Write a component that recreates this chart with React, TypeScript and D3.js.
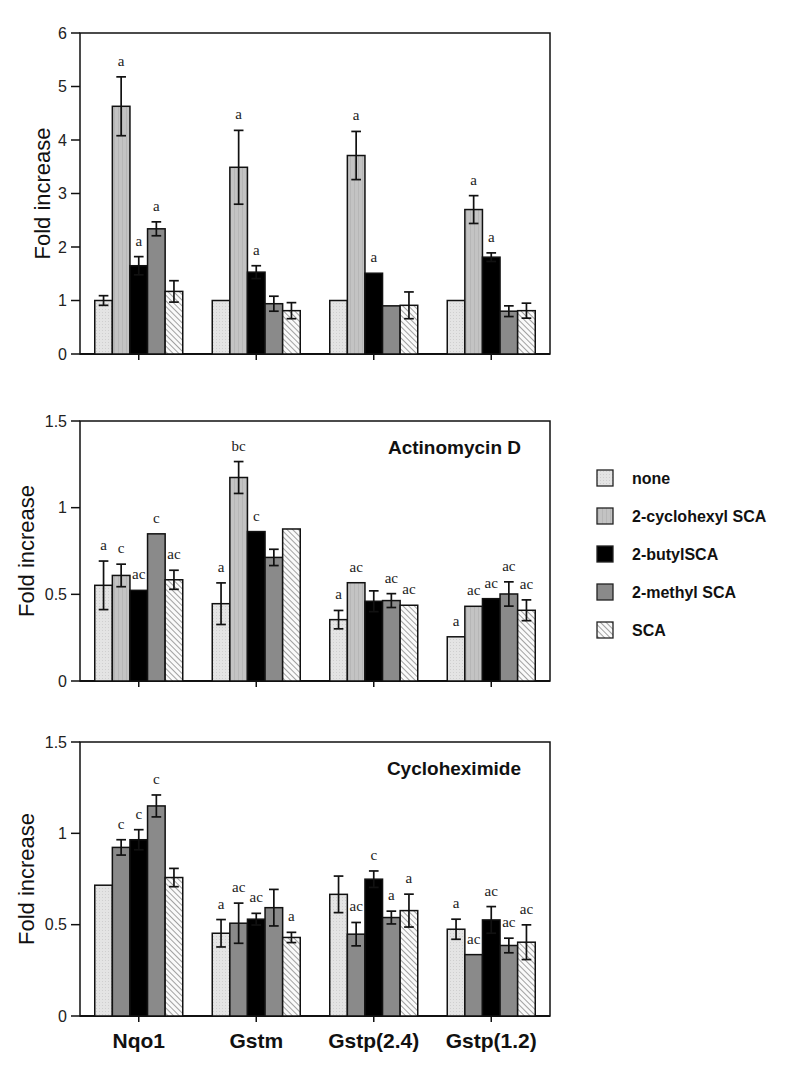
import * as d3 from 'd3';

const genes = ['Nqo1', 'Gstm', 'Gstp(2.4)', 'Gstp(1.2)'];
const treatments = ['none', '2-cyclohexyl SCA', '2-butylSCA', '2-methyl SCA', 'SCA'];

// top panel (no inhibitor)
const topValues = [
  [1.0, 4.63, 1.65, 2.34, 1.17],
  [1.0, 3.49, 1.53, 0.94, 0.81],
  [1.0, 3.71, 1.51, 0.9, 0.91],
  [1.0, 2.7, 1.81, 0.8, 0.81],
];
const topErrors = [
  [0.09, 0.55, 0.17, 0.13, 0.2],
  [0, 0.69, 0.12, 0.14, 0.15],
  [0, 0.45, 0, 0, 0.25],
  [0, 0.26, 0.08, 0.1, 0.14],
];
const topLetters = [
  ['', 'a', 'a', 'a', ''],
  ['', 'a', 'a', '', ''],
  ['', 'a', 'a', '', ''],
  ['', 'a', 'a', '', ''],
];

// Actinomycin D
const actValues = [
  [0.552, 0.609, 0.523, 0.849, 0.584],
  [0.446, 1.174, 0.862, 0.713, 0.877],
  [0.354, 0.567, 0.46, 0.464, 0.437],
  [0.255, 0.431, 0.475, 0.502, 0.408],
];
const actErrors = [
  [0.14, 0.065, 0, 0, 0.055],
  [0.12, 0.092, 0, 0.047, 0],
  [0.053, 0, 0.06, 0.04, 0],
  [0, 0, 0, 0.07, 0.06],
];
const actLetters = [
  ['a', 'c', 'ac', 'c', 'ac'],
  ['a', 'bc', 'c', '', ''],
  ['a', 'ac', '', 'ac', 'ac'],
  ['a', 'ac', 'ac', 'ac', 'ac'],
];

// Cycloheximide
const chxValues = [
  [0.716, 0.923, 0.965, 1.15, 0.758],
  [0.453, 0.508, 0.53, 0.593, 0.43],
  [0.666, 0.448, 0.749, 0.539, 0.577],
  [0.475, 0.336, 0.526, 0.386, 0.404],
];
const chxErrors = [
  [0, 0.042, 0.055, 0.06, 0.05],
  [0.075, 0.11, 0.032, 0.1, 0.028],
  [0.1, 0.064, 0.045, 0.035, 0.09],
  [0.055, 0, 0.073, 0.04, 0.095],
];
const chxLetters = [
  ['', 'c', 'c', 'c', ''],
  ['a', 'ac', 'ac', '', 'a'],
  ['', 'ac', 'c', 'a', 'a'],
  ['a', 'ac', 'ac', 'ac', 'ac'],
];

const topTicks = [0, 1, 2, 3, 4, 5, 6];
const smallTicks = [0, 0.5, 1, 1.5];

const fills = ['url(#patNone)', 'url(#patCyc)', '#000', '#8a8a8a', 'url(#patSca)'];

const sans = 'Liberation Sans, Arial, sans-serif';
const serif = 'Liberation Serif, Times New Roman, serif';

const left = 80;
const right = 550;

const x0 = d3.scaleBand<string>().domain(genes).range([left, right]).padding(0);
const x1 = d3.scaleBand<string>().domain(treatments).range([-44, 44]).padding(0);

interface PanelProps {
  values: number[][];
  errors: number[][];
  letters: string[][];
  yMax: number;
  ticks: number[];
  top: number;
  bottom: number;
  title?: string;
  secondFill?: string;
  xLabels?: boolean;
  labelX: number;
}

function Panel({ values, errors, letters, yMax, ticks, top, bottom, title, secondFill, xLabels, labelX }: PanelProps) {
  const y = d3.scaleLinear().domain([0, yMax]).range([bottom, top]);
  const bw = x1.bandwidth();
  const capW = bw * 0.55;
  return (
    <g>
      {/* frame */}
      <rect x={left} y={top} width={right - left} height={bottom - top} fill="none" stroke="#111" strokeWidth={1.5} />
      <line x1={left} x2={right} y1={bottom} y2={bottom} stroke="#111" strokeWidth={2} />
      {ticks.map(t => (
        <g key={t}>
          <line x1={left - 9} x2={left} y1={y(t)} y2={y(t)} stroke="#111" strokeWidth={1.5} />
          <text x={left - 13} y={y(t)} dy="0.35em" textAnchor="end" fontFamily={sans} fontSize={16} fill="#222">
            {String(t)}
          </text>
        </g>
      ))}
      {genes.map(g => (
        <line key={g} x1={x0(g)! + x0.bandwidth() / 2} x2={x0(g)! + x0.bandwidth() / 2} y1={bottom} y2={bottom + 6} stroke="#111" strokeWidth={1.5} />
      ))}
      <text transform={`translate(${labelX},${(top + bottom) / 2}) rotate(-90)`} textAnchor="middle" fontFamily={sans} fontSize={22} fill="#111">
        Fold increase
      </text>
      {title && (
        <text x={521} y={top + 33} textAnchor="end" fontFamily={sans} fontWeight="bold" fontSize={19} fill="#111">
          {title}
        </text>
      )}
      {/* letters first so neighbouring bars may cover them */}
      {genes.map((g, gi) =>
        treatments.map((t, ti) => {
          const l = letters[gi][ti];
          if (!l) return null;
          const cx = x0(g)! + x0.bandwidth() / 2 + x1(t)! + bw / 2;
          const v = values[gi][ti] + errors[gi][ti];
          return (
            <text key={g + t + 'l'} x={cx} y={y(v) - 11} textAnchor="middle" fontFamily={serif} fontSize={15} fill="#222">
              {l}
            </text>
          );
        })
      )}
      {genes.map((g, gi) =>
        treatments.map((t, ti) => {
          const v = values[gi][ti];
          const e = errors[gi][ti];
          const bx = x0(g)! + x0.bandwidth() / 2 + x1(t)!;
          const cx = bx + bw / 2;
          const fill = ti === 1 && secondFill ? secondFill : fills[ti];
          return (
            <g key={g + t}>
              <rect x={bx} y={y(v)} width={bw} height={bottom - y(v)} fill={fill} stroke="#111" strokeWidth={1.5} />
              {e > 0 && (
                <g stroke="#111" strokeWidth={1.7}>
                  <line x1={cx} x2={cx} y1={y(v + e)} y2={y(v - e)} />
                  <line x1={cx - capW / 2} x2={cx + capW / 2} y1={y(v + e)} y2={y(v + e)} />
                  <line x1={cx - capW / 2} x2={cx + capW / 2} y1={y(v - e)} y2={y(v - e)} />
                </g>
              )}
            </g>
          );
        })
      )}
      {xLabels &&
        genes.map(g => (
          <text key={g + 'x'} x={x0(g)! + x0.bandwidth() / 2} y={bottom + 32} textAnchor="middle" fontFamily={sans} fontWeight="bold" fontSize={21} fill="#111">
            {g}
          </text>
        ))}
    </g>
  );
}

export default function App() {
  const legendY = d3.scalePoint<string>().domain(treatments).range([478, 630]);
  return (
    <svg width={800} height={1065} style={{ position: 'absolute', left: 0, top: 0, background: '#fff' }}>
      <defs>
        <pattern id="patNone" width={3} height={3} patternUnits="userSpaceOnUse">
          <rect width={3} height={3} fill="#e4e4e4" />
          <rect width={1} height={1} fill="#cfcfcf" />
        </pattern>
        <pattern id="patCyc" width={4} height={4} patternUnits="userSpaceOnUse">
          <rect width={4} height={4} fill="#c3c3c3" />
          <rect x={2} width={1} height={4} fill="#b6b6b6" />
        </pattern>
        <pattern id="patSca" width={4} height={4} patternUnits="userSpaceOnUse" patternTransform="rotate(-45)">
          <rect width={4} height={4} fill="#fafafa" />
          <line x1={0} x2={0} y1={0} y2={4} stroke="#7a7a7a" strokeWidth={1.4} />
        </pattern>
      </defs>
      <rect width={800} height={1065} fill="#fff" />
      <Panel values={topValues} errors={topErrors} letters={topLetters} yMax={6} ticks={topTicks} top={33} bottom={354} labelX={50} />
      <Panel values={actValues} errors={actErrors} letters={actLetters} yMax={1.5} ticks={smallTicks} top={421} bottom={681} title="Actinomycin D" labelX={34} />
      <Panel values={chxValues} errors={chxErrors} letters={chxLetters} yMax={1.5} ticks={smallTicks} top={742} bottom={1016} title="Cycloheximide" secondFill="#8a8a8a" xLabels labelX={34} />
      {treatments.map((t, i) => (
        <g key={t}>
          <rect x={597} y={legendY(t)! - 8} width={16} height={16} fill={fills[i]} stroke="#222" strokeWidth={1.3} />
          <text x={632} y={legendY(t)!} dy="0.35em" fontFamily={sans} fontWeight="bold" fontSize={16} fill="#111">
            {t}
          </text>
        </g>
      ))}
    </svg>
  );
}
